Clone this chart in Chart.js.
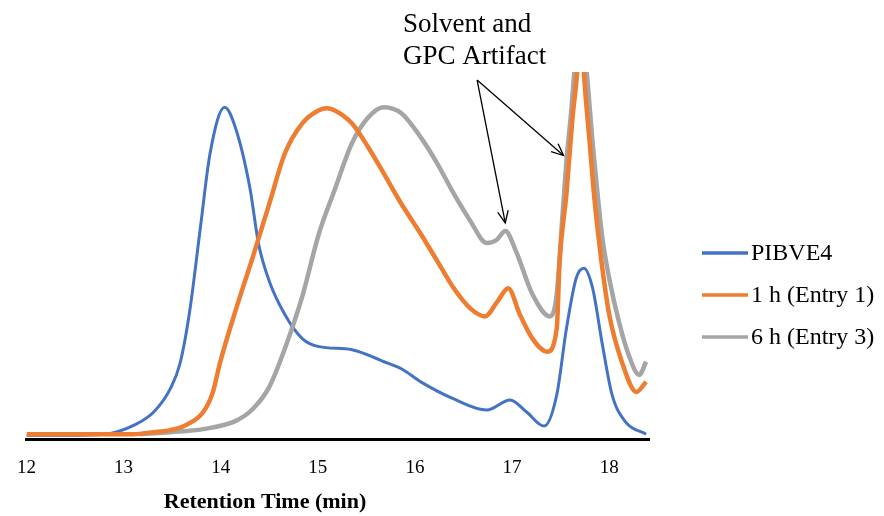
<!DOCTYPE html>
<html><head><meta charset="utf-8">
<script src="https://cdn.jsdelivr.net/npm/chart.js@4.4.0/dist/chart.umd.min.js"></script>
<style>html,body{margin:0;padding:0;background:#fff}#wrap{width:884px;height:516px}</style>
</head><body><div id="wrap"><canvas id="c" width="884" height="516"></canvas></div>
<script>
// Retention time (min) and detector response (arbitrary units)
const seriesNames = ["PIBVE4", "1 h (Entry 1)", "6 h (Entry 3)"];
const xTicks = [12, 13, 14, 15, 16, 17, 18];

const pibveT = [12.00,12.40,12.80,13.13,13.31,13.48,13.58,13.68,13.79,13.89,14.04,14.15,14.30,14.39,14.50,14.66,14.84,15.01,15.35,15.68,15.86,16.06,16.40,16.74,16.98,17.15,17.33,17.46,17.56,17.66,17.74,17.83,17.93,18.03,18.17,18.38];
const pibveV = [4,4,5,15,27,50,75,127,210,284,330,310,250,194,157,124,100,92,89,77,70,57,40,29,39,27,13,44,110,160,170,150,94,44,17,5];

const h1T = [12.00,12.50,13.10,13.31,13.48,13.64,13.82,13.92,13.99,14.15,14.33,14.50,14.66,14.84,15.01,15.09,15.17,15.35,15.52,15.68,15.86,16.06,16.23,16.40,16.57,16.72,16.85,16.96,17.08,17.21,17.36,17.46,17.49,17.56,17.62,17.67,17.71,17.74,17.80,17.85,17.92,18.00,18.13,18.28,18.38];
const h1V = [5,5,5,7,9,14,27,47,75,127,181,234,284,314,327,329,327,314,290,264,234,204,177,150,130,122,137,150,124,100,87,110,177,244,317,364,420,364,294,237,177,124,77,47,57];

const h6T = [13.17,13.48,13.82,14.15,14.33,14.50,14.66,14.84,15.01,15.17,15.35,15.52,15.68,15.86,16.06,16.23,16.40,16.57,16.74,16.84,16.93,17.04,17.21,17.39,17.46,17.51,17.56,17.61,17.64,17.71,17.77,17.83,17.88,17.93,18.00,18.10,18.20,18.31,18.38];
const h6V = [5,7,10,18,30,52,90,142,204,247,294,320,330,324,300,274,244,217,195,198,207,187,144,122,144,210,277,327,364,440,364,294,244,200,160,117,84,64,77];

const colors = ["#4472C4", "#ED7D31", "#A5A5A5"];

function pts(t, v) { return t.map((x, i) => ({ x: x, y: v[i] })); }

const annotationPlugin = {
  id: 'gpcExtras',
  afterDraw(chart) {
    const ctx = chart.ctx, xs = chart.scales.x, ys = chart.scales.y;
    ctx.save();
    // annotation text
    ctx.fillStyle = '#000';
    ctx.font = '27px "Liberation Serif"';
    ctx.textAlign = 'left';
    ctx.textBaseline = 'alphabetic';
    ctx.fillText('Solvent and', 403, 32);
    ctx.fillText('GPC Artifact', 403, 64);
    // arrows (anchored to data coordinates)
    const ox = xs.getPixelForValue(16.64), oy = ys.getPixelForValue(357);
    const tips = [[16.93, 215], [17.53, 282]];
    ctx.strokeStyle = '#000';
    ctx.lineWidth = 1.3;
    tips.forEach(([tx, tv]) => {
      const px = xs.getPixelForValue(tx), py = ys.getPixelForValue(tv);
      ctx.beginPath(); ctx.moveTo(ox, oy); ctx.lineTo(px, py); ctx.stroke();
      const ang = Math.atan2(py - oy, px - ox), L = 13, a = 0.42;
      ctx.beginPath();
      ctx.moveTo(px - L * Math.cos(ang - a), py - L * Math.sin(ang - a));
      ctx.lineTo(px, py);
      ctx.lineTo(px - L * Math.cos(ang + a), py - L * Math.sin(ang + a));
      ctx.stroke();
    });
    // axis title
    ctx.font = 'bold 22px "Liberation Serif"';
    ctx.textAlign = 'center';
    ctx.fillText('Retention Time (min)', 265, 508);
    // legend
    ctx.font = '24px "Liberation Serif"';
    ctx.textAlign = 'left';
    ctx.textBaseline = 'middle';
    const rows = [253, 295, 337];
    chart.data.datasets.forEach((ds, i) => {
      ctx.strokeStyle = ds.borderColor;
      ctx.lineWidth = 3.5;
      ctx.beginPath(); ctx.moveTo(702, rows[i]); ctx.lineTo(748, rows[i]); ctx.stroke();
      ctx.fillStyle = '#000';
      ctx.fillText(ds.label, 751, rows[i] + 1);
    });
    ctx.restore();
  }
};

new Chart(document.getElementById('c'), {
  type: 'line',
  data: {
    datasets: [
      { label: seriesNames[0], data: pts(pibveT, pibveV), borderColor: colors[0], backgroundColor: colors[0], borderWidth: 3, order: 3 },
      { label: seriesNames[1], data: pts(h1T, h1V), borderColor: colors[1], backgroundColor: colors[1], borderWidth: 4.5, order: 1 },
      { label: seriesNames[2], data: pts(h6T, h6V), borderColor: colors[2], backgroundColor: colors[2], borderWidth: 4.5, order: 2 }
    ]
  },
  options: {
    responsive: false,
    animation: false,
    devicePixelRatio: 1,
    elements: { point: { radius: 0, hoverRadius: 0 }, line: { cubicInterpolationMode: 'monotone' } },
    layout: { autoPadding: false, padding: { left: 19, right: 235, top: 72, bottom: 20 } },
    plugins: { legend: { display: false }, tooltip: { enabled: false } },
    scales: {
      x: {
        type: 'linear', min: 12, max: 18.41,
        afterBuildTicks(axis) { axis.ticks = xTicks.map(v => ({ value: v })); },
        ticks: { color: '#000', font: { family: 'Liberation Serif', size: 19 }, padding: 17, maxRotation: 0 },
        grid: { display: false, drawTicks: false },
        border: { display: true, color: '#000', width: 3 }
      },
      y: { display: false, min: 0, max: 365 }
    }
  },
  plugins: [annotationPlugin]
});
</script></body></html>
